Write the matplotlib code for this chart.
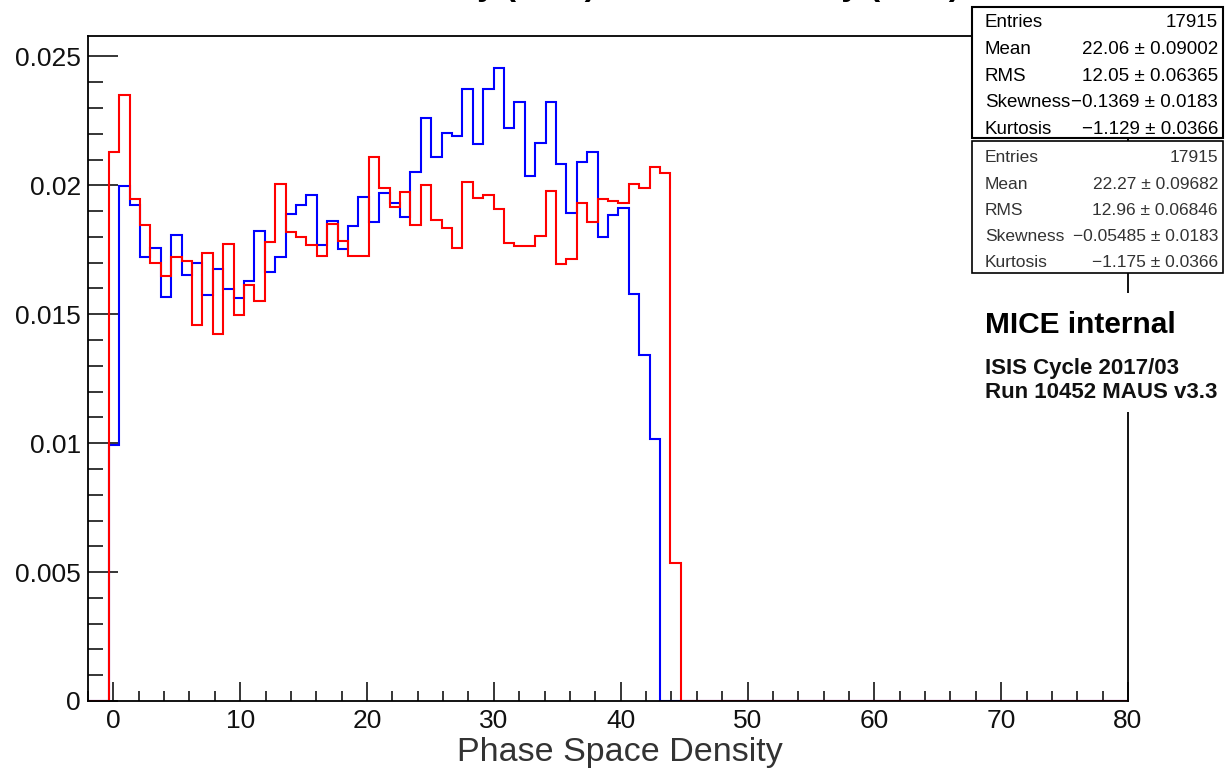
import matplotlib
matplotlib.use('Agg')
import matplotlib.pyplot as plt
import numpy as np
from matplotlib.patches import Rectangle
from matplotlib.ticker import MultipleLocator, FixedLocator

# ---------------- data ----------------
n_bins = 100
x_low, x_high = -2.0, 80.0
first_bin = 2  # index of the first filled bin

# blue histogram (upper stats box), bins 2..54
blue_vals = [0.00993, 0.01997, 0.01924, 0.01723, 0.01758, 0.01568, 0.01807, 0.01652,
             0.01698, 0.01575, 0.01674, 0.01597, 0.01562, 0.01629, 0.01824, 0.01663,
             0.01723, 0.01889, 0.01924, 0.01962, 0.01769, 0.01863, 0.01752, 0.01843,
             0.01956, 0.01859, 0.01969, 0.01930, 0.01878, 0.02053, 0.02260, 0.02111,
             0.02202, 0.02192, 0.02372, 0.02159, 0.02372, 0.02453, 0.02221, 0.02324,
             0.02037, 0.02163, 0.02324, 0.02083, 0.01891, 0.02091, 0.02130, 0.01801,
             0.01885, 0.01913, 0.01579, 0.01342, 0.01016]

# red histogram (lower stats box), bins 2..56
red_vals = [0.02130, 0.02350, 0.01947, 0.01846, 0.01698, 0.01650, 0.01723, 0.01707,
            0.01459, 0.01739, 0.01422, 0.01772, 0.01497, 0.01614, 0.01552, 0.01779,
            0.02004, 0.01818, 0.01798, 0.01769, 0.01727, 0.01849, 0.01784, 0.01726,
            0.01726, 0.02109, 0.01991, 0.01917, 0.01975, 0.01846, 0.02001, 0.01866,
            0.01836, 0.01758, 0.02014, 0.01950, 0.01962, 0.01908, 0.01775, 0.01765,
            0.01765, 0.01803, 0.01978, 0.01695, 0.01713, 0.01930, 0.01859, 0.01947,
            0.01939, 0.01933, 0.02004, 0.01991, 0.02070, 0.02049, 0.00535]

x_ticks = [0, 10, 20, 30, 40, 50, 60, 70, 80]
y_ticks = [0, 0.005, 0.01, 0.015, 0.02, 0.025]
y_tick_labels = ["0", "0.005", "0.01", "0.015", "0.02", "0.025"]

stats_blue = [("Entries", "17915"), ("Mean", "22.06 \u00b1 0.09002"),
              ("RMS", "12.05 \u00b1 0.06365"), ("Skewness", "\u22120.1369 \u00b1 0.0183"),
              ("Kurtosis", "\u22121.129 \u00b1 0.0366")]
stats_red = [("Entries", "17915"), ("Mean", "22.27 \u00b1 0.09682"),
             ("RMS", "12.96 \u00b1 0.06846"), ("Skewness", "\u22120.05485 \u00b1 0.0183"),
             ("Kurtosis", "\u22121.175 \u00b1 0.0366")]

x_title = "Phase Space Density"
plot_title = "Initial Density (TKU) vs Final Density (TKD)"
label_lines = ["MICE internal", "ISIS Cycle 2017/03", "Run 10452 MAUS v3.3"]

# ---------------- figure ----------------
plt.rcParams['font.family'] = ['Liberation Sans', 'DejaVu Sans']
W, H = 1227, 774
fig = plt.figure(figsize=(W / 100, H / 100), dpi=100)
fig.patch.set_facecolor('white')


def fx(x):
    return x / W


def fy(y):
    return 1 - y / H


ax = fig.add_axes([fx(88), fy(701), fx(1128) - fx(88), fy(36) - fy(701)])

edges = np.linspace(x_low, x_high, n_bins + 1)
blue_full = np.zeros(n_bins)
blue_full[first_bin:first_bin + len(blue_vals)] = blue_vals
red_full = np.zeros(n_bins)
red_full[first_bin:first_bin + len(red_vals)] = red_vals

ax.stairs(blue_full, edges, baseline=0, color='#0000ff', lw=1.5, zorder=3)
ax.stairs(red_full, edges, baseline=0, color='#ff0000', lw=1.5, zorder=4)

ax.set_xlim(x_low, x_high)
ax.set_ylim(0, 0.02579)

ax.xaxis.set_major_locator(FixedLocator(x_ticks))
ax.xaxis.set_minor_locator(MultipleLocator(2))
ax.yaxis.set_major_locator(FixedLocator(y_ticks))
ax.set_yticklabels(y_tick_labels)
ax.yaxis.set_minor_locator(MultipleLocator(0.001))

ax.tick_params(axis='both', which='both', direction='in', top=False, right=False,
               width=1.1, color='black', labelsize=19, labelcolor='#111111')
ax.tick_params(axis='x', which='major', length=13.7, pad=6)
ax.tick_params(axis='x', which='minor', length=7)
ax.tick_params(axis='y', which='major', length=21.6, pad=5)
ax.tick_params(axis='y', which='minor', length=10.8)
for s in ax.spines.values():
    s.set_linewidth(1.3)
    s.set_color('black')
    s.set_zorder(5)

fig.text(fx(620), fy(752), x_title, ha='center', va='center', fontsize=24.5,
         color='#333333')

# title: only its descenders show at the very top edge of the picture
fig.text(fx(960), fy(-5), plot_title, ha='right', va='baseline', fontsize=24,
         fontweight='bold', color='black')


# ---------------- stats boxes ----------------
def stats_box(y0, y1, rows, row_centers, fs, col, lw):
    rect = Rectangle((fx(972), fy(y1)), fx(1223) - fx(972), fy(y0) - fy(y1),
                     transform=fig.transFigure, facecolor='white', edgecolor='black',
                     lw=lw, zorder=10)
    fig.add_artist(rect)
    cap = 0.716 * fs * 100 / 72
    for (name, val), yc in zip(rows, row_centers):
        yb = yc + cap / 2
        fig.text(fx(985), fy(yb), name, ha='left', va='baseline', fontsize=fs,
                 color=col, zorder=11)
        fig.text(fx(1218), fy(yb), val, ha='right', va='baseline', fontsize=fs,
                 color=col, zorder=11)


stats_box(7, 138, stats_blue, [20.7, 47.3, 74.0, 100.6, 127.2], 13.5, 'black', 1.5)
stats_box(141, 273, stats_red, [155.7, 182.3, 209.0, 235.0, 260.8], 12.5, '#333333', 1.2)

# ---------------- label block ----------------
fig.add_artist(Rectangle((fx(976), fy(412)), fx(1227) - fx(976), fy(293) - fy(412),
                         transform=fig.transFigure, facecolor='white',
                         edgecolor='none', zorder=10))
fig.text(fx(985), fy(333.3), label_lines[0], ha='left', va='baseline', fontsize=21.5,
         fontweight='bold', color='black', zorder=11)
fig.text(fx(985), fy(374), label_lines[1], ha='left', va='baseline', fontsize=16,
         fontweight='bold', color='#111111', zorder=11)
fig.text(fx(985), fy(398.3), label_lines[2], ha='left', va='baseline', fontsize=16,
         fontweight='bold', color='#111111', zorder=11)

fig.savefig('out.png', dpi=100, facecolor='white')
